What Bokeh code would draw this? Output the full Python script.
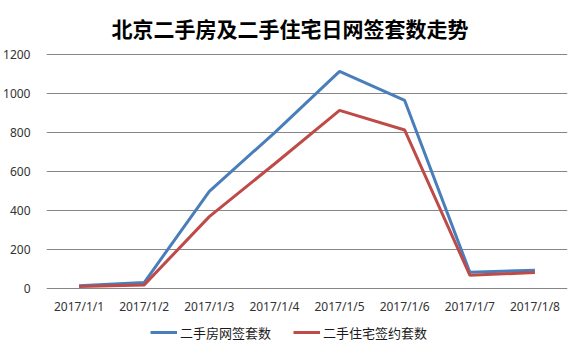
from bokeh.plotting import figure
from bokeh.models import Range1d, FixedTicker, Legend, LegendItem, Title
from bokeh.layouts import column
from bokeh.embed import file_html
from bokeh.resources import INLINE

dates = ["2017/1/1", "2017/1/2", "2017/1/3", "2017/1/4",
         "2017/1/5", "2017/1/6", "2017/1/7", "2017/1/8"]
resale_signed = [15, 32, 500, 800, 1115, 966, 85, 95]
residential_signed = [12, 20, 370, 640, 915, 814, 70, 83]
y_ticks = [0, 200, 400, 600, 800, 1000, 1200]
series_names = ["二手房网签套数", "二手住宅签约套数"]
title_text = "北京二手房及二手住宅日网签套数走势"

BLUE = "#4A7EBB"
RED = "#BE4B48"

p = figure(width=579, height=318, x_range=dates,
           y_range=Range1d(-3.6, 1206.6),
           output_backend="svg", toolbar_location=None,
           min_border_left=45, min_border_right=12,
           min_border_top=51, min_border_bottom=29)

p.title = Title(text=title_text, align="left", offset=65,
                text_font="Noto Sans CJK SC", text_font_style="bold",
                text_font_size="21px", text_color="#000000", standoff=21)

p.outline_line_color = None
p.background_fill_color = "white"
p.border_fill_color = "white"

# grid
p.xgrid.grid_line_color = None
p.ygrid.ticker = FixedTicker(ticks=y_ticks)
p.ygrid.grid_line_color = "#868686"
p.ygrid.grid_line_width = 1

# axes
p.yaxis.ticker = FixedTicker(ticks=y_ticks)
for ax in (p.xaxis[0], p.yaxis[0]):
    ax.axis_line_color = None
    ax.major_tick_line_color = None
    ax.minor_tick_line_color = None
    ax.major_label_text_font = "Noto Sans"
    ax.major_label_text_font_size = "12px"
    ax.major_label_text_color = "#333333"
p.yaxis.major_label_standoff = 10
p.xaxis.major_label_standoff = 2

p.line(dates, resale_signed, line_color=BLUE, line_width=3)
p.line(dates, residential_signed, line_color=RED, line_width=3)

# legend strip below the chart (series drawn off-view, only the legend shows)
lf = figure(width=579, height=34, output_backend="svg", toolbar_location=None,
            x_range=dates, y_range=Range1d(5000, 6000),
            x_axis_type=None, y_axis_type=None, title=None,
            min_border_left=0, min_border_right=0,
            min_border_top=0, min_border_bottom=0)
lf.grid.visible = False
lf.outline_line_color = None
lf.background_fill_color = "white"
lf.border_fill_color = "white"
k1 = lf.line(dates, resale_signed, line_color=BLUE, line_width=3)
k2 = lf.line(dates, residential_signed, line_color=RED, line_width=3)

legend = Legend(items=[LegendItem(label=series_names[0], renderers=[k1]),
                       LegendItem(label=series_names[1], renderers=[k2])],
                orientation="horizontal", location=(104, 10),
                glyph_width=27, glyph_height=20, label_height=20,
                label_standoff=3, spacing=22, padding=0, margin=0,
                border_line_color=None, background_fill_alpha=0,
                label_text_font="Noto Sans CJK SC",
                label_text_font_size="13px", label_text_color="#1a1a1a")
lf.add_layout(legend, "center")

layout = column(p, lf, spacing=0)
open("out.html", "w").write(file_html(layout, INLINE))
